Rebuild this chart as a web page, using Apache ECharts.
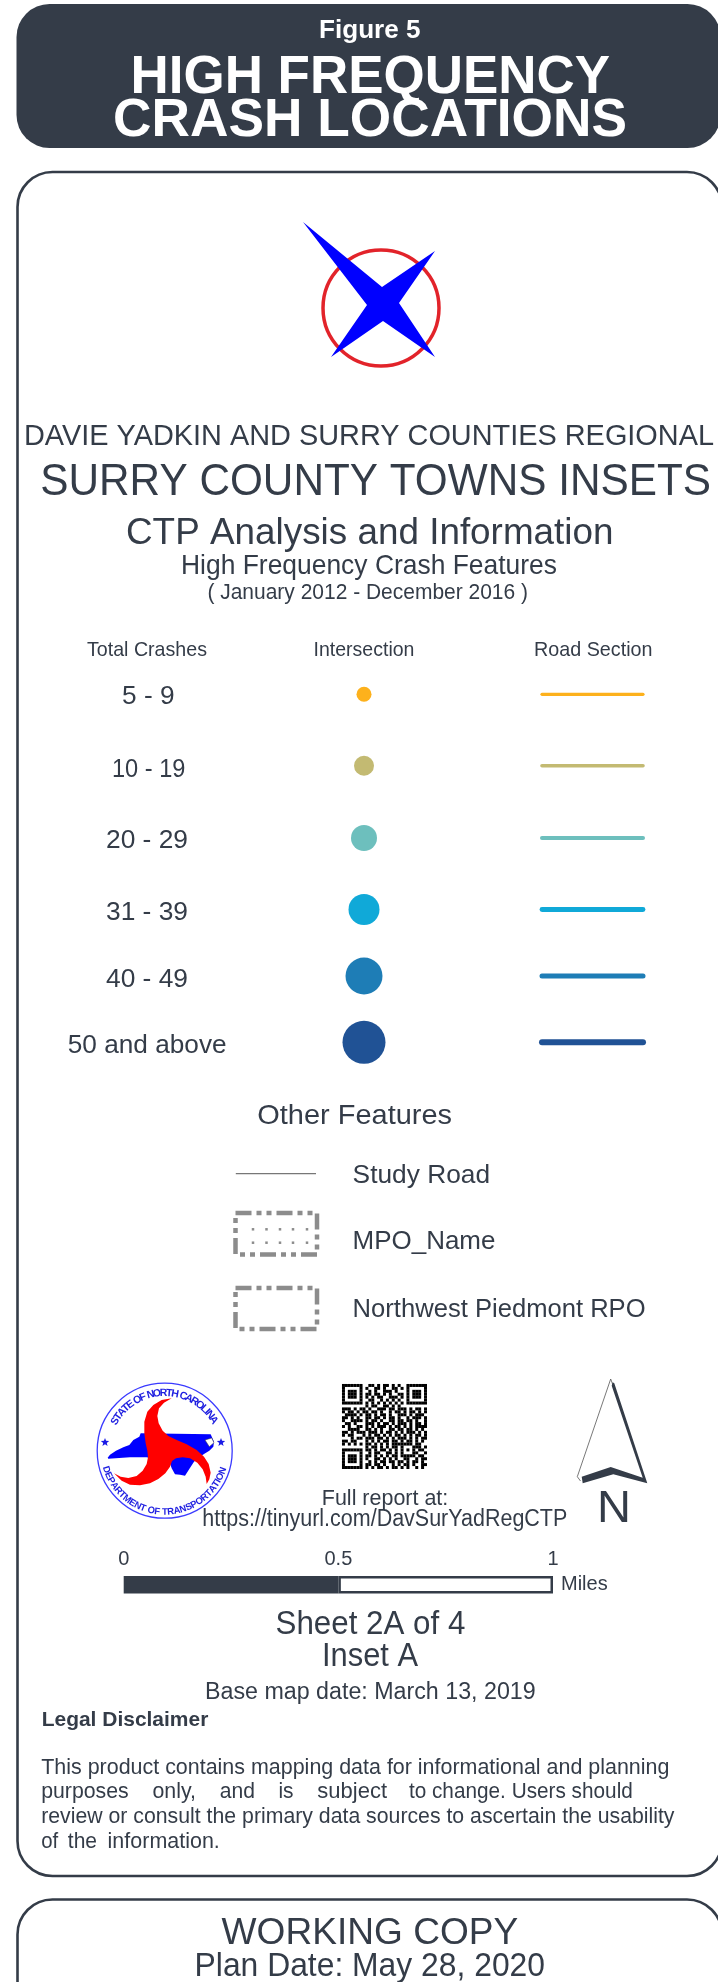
<!DOCTYPE html>
<html><head><meta charset="utf-8">
<style>html,body{margin:0;padding:0;background:#fff}#c{width:718px;height:1982px}</style>
<script src="https://cdn.jsdelivr.net/npm/echarts@6/dist/echarts.min.js"></script>
</head><body><div id="c"></div>
<script>
// ---------- content ----------
const titleLines = ['Figure 5', 'HIGH FREQUENCY', 'CRASH LOCATIONS'];
const headingLines = ['DAVIE YADKIN AND SURRY COUNTIES REGIONAL', 'SURRY COUNTY TOWNS INSETS', 'CTP Analysis and Information', 'High Frequency Crash Features', '( January 2012 - December 2016 )'];
const columnHeads = ['Total Crashes', 'Intersection', 'Road Section'];
const crashClasses = ['5 - 9', '10 - 19', '20 - 29', '31 - 39', '40 - 49', '50 and above'];
const classColors = ['#fdb11c', '#c3ba72', '#6dbfbd', '#10a9d8', '#1e7db6', '#205295'];
const otherHeading = 'Other Features';
const otherFeatures = ['Study Road', 'MPO_Name', 'Northwest Piedmont RPO'];
const reportLines = ['Full report at:', 'https://tinyurl.com/DavSurYadRegCTP'];
const scaleSegmentsMiles = [0.5, 0.5];
const scaleUnit = 'Miles';
const sheetLines = ['Sheet 2A of 4', 'Inset A', 'Base map date: March 13, 2019'];
const disclaimerHead = 'Legal Disclaimer';
const disclaimerLines = [
  ['This product contains mapping data for informational and planning'],
  ['purposes', 'only,', 'and', 'is', 'subject', 'to change. Users should'],
  ['review or consult the primary data sources to ascertain the usability'],
  ['of', 'the', 'information.']
];
const footerLines = ['WORKING COPY', 'Plan Date: May 28, 2020'];
const sealTop = 'STATE OF NORTH CAROLINA';
const sealBottom = 'DEPARTMENT OF TRANSPORTATION';
const qrRows = [
'#######..##.#.##.#.#..#######','#.....#.#..##.#..##.#.#.....#','#.###.#..#.#..###.#...#.###.#',
'#.###.#.##.##.#.#..##.#.###.#','#.###.#.#.#.##..###.#.#.###.#','#.....#..##..#.#.#.#..#.....#',
'#######.#.#.#.#.#.#.#.#######','........#.##..##.#.#.........',
'###.#.##.#..###.##.###.#.##.#','#.##.#.##.##.#..#.##.#.##.#.#','.####.#.##.#.##.#..###.#.###.',
'##.#.#..##.##.#.##.#..#.###.#','#..####.#.##.#..##.##.##.#..#','.##.#...###.#.##.#.###.#.##.#',
'#.#..##.#.#.###.#.##.#.#.####','..####..##.#.#..##.##.##.#.#.','##.#.###.###.#.##.#.#.###.#.#',
'#.##...#.#.##.#.#.##.#.#.##.#','...#.##.###.##.#.#.###.#.#.##','##.##...#.#.#.##.##.#.##.#.#.',
'#.#.#.#.##.#.#.#.#######.##.',
'........#.##.#.#.##.#...###.#','#######.##.#.##.#.#.#.#.#.##.','#.....#..#.##..##.#.#...##..#',
'#.###.#.##.#.#.#.##.#####.##.','#.###.#.#..##.#.#.#..##..#.##','#.###.#..#.#.##.##.##.#.##.#.',
'#.....#.##.##.#..#.#.##.#..##','#######.#.#.##.#.##.#.#..#.#.'
];

// ---------- layout tables (page pixels) ----------
const INK = '#343c48', FONT = '"Liberation Sans", Arial, sans-serif';
const titleBoxes = [[319,420.5,38.3,26],[130.5,610,94.3,53],[113,627,137,53]];
const headingBoxes = [[24,714,446.2,27.5],[40.3,711,496,42],[126,613.5,544.8,36],[181,557,574.6,26],[207.4,528,599.8,21.5]];
const headBoxes = [[87,207,657,20],[313.6,414.4,657,20],[534,652.5,657,20]];
const classBoxes = [[122,174.5,704.2,24],[112,185.4,777.2,24],[106,188,849,24],[106,188,920.5,24],[106,188,987.2,24],[67.8,226.6,1053.9,24]];
const rowY = [694.3,765.7,838,909.5,976,1042.3];
const dotSize = [15,20,26,31,37,43];
const lineWidth = [3.2,3.6,4,4.8,5,6];
const otherBoxes = [[352.6,490,1183.3,25],[352.6,495.4,1250,25],[352.6,645.6,1318,25]];
const sheetBoxes = [[275.5,465.3,1635,32],[322,418,1667,32],[205,535.7,1699.3,23]];
const reportBoxes = [[321.8,448.3,1505.7,21.5],[202.3,567.3,1526.7,22]];
const disclaimerBoxes = [
  [[41.2,669.4]],
  [[41.2,128.7],[152.5,196],[219.8,255],[278.4,293.5],[317.3,387],[408.9,632.8]],
  [[41.2,674.5]],
  [[41.2,58.2],[67.8,97],[107.6,219.8]]
];
const disclaimerBase = [1775,1799,1823.3,1848.3];
const footerBoxes = [[221.6,518.3,1945,35],[194.6,545,1976.7,32]];

// ---------- helpers ----------
const ctx = document.createElement('canvas').getContext('2d');
function fit(text, x0, x1, base, size0, bold, fill) {
  const size = size0 * (bold ? 1.02 : 1.05);
  const f = (bold ? 'bold ' : '') + size + 'px ' + FONT;
  ctx.font = f;
  const w = ctx.measureText(text).width;
  return { type: 'text', x: x0, y: base - size * 0.30, scaleX: (x1 - x0) / w, silent: true,
    style: { text, font: f, fill: fill || INK, align: 'left', verticalAlign: 'middle' } };
}
const boxes = (texts, table, bold, fill) => texts.map((t, i) => fit(t, table[i][0], table[i][1], table[i][2], table[i][3], bold, fill));
const sx = zx => 90 + zx / 3, sy = zy => 1380 + zy / 3;
const sealPts = a => a.map(p => [sx(p[0]), sy(p[1])]);
function star(cx, cy, r) {
  const pts = [];
  for (let i = 0; i < 10; i++) {
    const a = -Math.PI / 2 + i * Math.PI / 5, q = i % 2 ? r * 0.42 : r;
    pts.push([cx + q * Math.cos(a), cy + q * Math.sin(a)]);
  }
  return { type: 'polygon', silent: true, shape: { points: pts }, style: { fill: '#1a1ae6' } };
}
function arcText(text, size, radius, fromDeg, toDeg, bottom) {
  const cx = 164.7, cy = 1450.7, f = 'bold ' + size + 'px ' + FONT;
  ctx.font = f;
  const widths = [...text].map(c => ctx.measureText(c).width);
  const total = widths.reduce((a, b) => a + b, 0);
  let run = 0;
  return [...text].map((c, i) => {
    const t = (run + widths[i] / 2) / total; run += widths[i];
    const a = (fromDeg + (toDeg - fromDeg) * t) * Math.PI / 180;
    const x = cx + radius * Math.sin(a), y = bottom ? cy + radius * Math.cos(a) : cy - radius * Math.cos(a);
    return { type: 'text', x, y, rotation: bottom ? a : -a, silent: true,
      style: { text: c, font: f, fill: '#1f1fe0', align: 'center', verticalAlign: 'middle' } };
  });
}

// ---------- seal outlines (zoomed seal coordinates) ----------
const sealMap = [[53,233],[60,224],[78,212],[100,202],[118,195],[130,180],[148,170],[152,160],[362,163],[372,185],[370,200],[358,212],[342,222],[328,232],[312,245],[296,270],[285,287],[270,284],[255,283],[245,265],[240,250],[170,232],[120,232],[55,236]];
const sealWhirl = [[245,55],[222,68],[207,85],[202,108],[206,130],[218,152],[235,168],[260,180],[290,193],[320,210],[342,230],[356,252],[362,278],[358,298],[350,312],[347,290],[338,268],[322,248],[300,235],[278,232],[258,235],[246,243],[240,260],[226,280],[205,297],[180,310],[150,316],[120,314],[95,302],[72,280],[92,290],[115,294],[140,288],[158,272],[170,252],[174,232],[172,212],[167,190],[163,160],[163,125],[172,95],[190,75],[215,60]];
const sealCoast = [[345,180],[365,174],[372,188],[358,200]];

// ---------- graphics ----------
const graphics = [
  { type:'rect', silent:true, shape:{x:16.5,y:4,width:704,height:144,r:33}, style:{fill:INK} },
  { type:'rect', silent:true, shape:{x:17.5,y:172,width:704.5,height:1704,r:35}, style:{fill:'#fff',stroke:INK,lineWidth:2.6} },
  { type:'rect', silent:true, shape:{x:17.5,y:1899.5,width:704.5,height:140,r:35}, style:{fill:'#fff',stroke:INK,lineWidth:2.6} },
  ...boxes(titleLines, titleBoxes, true, '#ffffff'),
  { type:'circle', silent:true, shape:{cx:381,cy:308,r:58}, style:{fill:'#fff',stroke:'#e2232a',lineWidth:3.5} },
  { type:'polygon', silent:true, shape:{points:[[303,222],[382,287],[435,251],[399,303],[435,357],[383,321],[331,357],[367,305]]}, style:{fill:'#0000ff'} },
  ...boxes(headingLines, headingBoxes),
  ...boxes(columnHeads, headBoxes),
  ...boxes(crashClasses, classBoxes),
  fit(otherHeading, 257.3, 452, 1124.3, 27),
  ...boxes(otherFeatures, otherBoxes),
  // seal
  { type:'circle', silent:true, shape:{cx:164.7,cy:1450.7,r:67.5}, style:{fill:'#fff',stroke:'#3a3aff',lineWidth:1.3} },
  { type:'polygon', silent:true, shape:{points:sealPts(sealMap)}, style:{fill:'#0000ff'} },
  { type:'polygon', silent:true, shape:{points:sealPts(sealCoast)}, style:{fill:'#fff',stroke:'#333',lineWidth:0.5} },
  { type:'polygon', silent:true, shape:{points:sealPts(sealWhirl)}, style:{fill:'#ff0000'} },
  star(sx(45), sy(187), 4.4), star(sx(393), sy(187), 4.4),
  ...arcText(sealTop, 10.6, 57.6, -62, 61, false),
  ...arcText(sealBottom, 9.5, 61.4, -75, 74, true),
  // report link
  ...boxes(reportLines, reportBoxes),
  // north arrow
  { type:'polyline', silent:true, shape:{points:[[580.5,1481],[577.3,1476.7],[610.7,1379],[613.3,1386]]}, style:{fill:null,stroke:'#555',lineWidth:0.8} },
  { type:'polygon', silent:true, shape:{points:[[612.7,1382.3],[614.3,1383.3],[647.3,1483.3],[613.3,1474.3],[582.7,1483.3],[581.7,1476.7],[610.7,1467],[642.7,1477.7],[611.7,1385.7]]}, style:{fill:INK} },
  fit('N', 597, 631, 1522.7, 43),
  ...boxes(sheetLines, sheetBoxes),
  fit(disclaimerHead, 41.7, 208.3, 1726.7, 20, true),
  ...disclaimerLines.flatMap((segs, i) => segs.map((s, j) => fit(s, disclaimerBoxes[i][j][0], disclaimerBoxes[i][j][1], disclaimerBase[i], 21))),
  ...boxes(footerLines, footerBoxes)
];

// ---------- series on pixel-aligned axes ----------
const DOT_X = 364, ROAD_X = [542, 643];
const dots = crashClasses.map((c, i) => ({ name: c, value: [DOT_X, rowY[i]], symbolSize: dotSize[i], itemStyle: { color: classColors[i], opacity: 1 } }));
const series = [
  { type:'scatter', name:'Intersection', data:dots, symbol:'circle', silent:true, z:3 },
  ...crashClasses.map((c, i) => ({
    type:'line', name:c, data:[[ROAD_X[0],rowY[i]],[ROAD_X[1],rowY[i]]], showSymbol:false, silent:true, z:3,
    lineStyle:{ color:classColors[i], width:lineWidth[i], cap:'round' }
  })),
  { type:'line', name:otherFeatures[0], data:[[235.8,1173.7],[316,1173.7]], showSymbol:false, silent:true, z:3, lineStyle:{ color:'#777', width:1.3 } },
  ...[[1213,1254.5],[1288,1329]].map((yy, i) => ({
    type:'line', name:otherFeatures[i + 1],
    data:[[235.5,yy[0]],[317,yy[0]],[317,yy[1]],[235.5,yy[1]],[235.5,yy[0]]],
    showSymbol:false, silent:true, z:3,
    lineStyle:{ color:'#8c8c8c', width:4.5, type:[16,5,5,5,5,5] }
  })),
  { type:'scatter', name:'MPO fill', silent:true, z:3, symbol:'rect', symbolSize:2.5, itemStyle:{color:'#8c8c8c', opacity:1},
    data:[1229.3,1242.7].flatMap(y => [253,266.5,280,293,307].map(x => [x,y])) },
  { type:'scatter', name:'QR', silent:true, z:3, symbol:'rect', symbolSize:3, itemStyle:{color:'#000', opacity:1},
    data:qrRows.flatMap((row, r) => [...row].flatMap((ch, c) => ch === '#' ? [[342 + (c + 0.5) * 2.93, 1384 + (r + 0.5) * 2.93]] : [])) },
  { type:'bar', name:'scale dark', xAxisIndex:1, yAxisIndex:1, stack:'s', barWidth:'100%', silent:true,
    data:[scaleSegmentsMiles[0]], itemStyle:{ color:INK, borderColor:INK, borderWidth:2.5 } },
  { type:'bar', name:'scale light', xAxisIndex:1, yAxisIndex:1, stack:'s', barWidth:'100%', silent:true,
    data:[scaleSegmentsMiles[1]], itemStyle:{ color:'#fff', borderColor:INK, borderWidth:2.5 } }
];

const chart = echarts.init(document.getElementById('c'), null, { renderer:'canvas' });
chart.setOption({
  animation:false,
  backgroundColor:'#fff',
  grid:[
    { left:0, top:0, width:718, height:1982 },
    { left:123.7, top:1576, width:429.3, height:17.5 }
  ],
  xAxis:[
    { type:'value', gridIndex:0, min:0, max:718, show:false },
    { type:'value', gridIndex:1, min:0, max:1, interval:0.5, position:'top',
      axisLine:{show:false}, axisTick:{show:false}, splitLine:{show:false},
      axisLabel:{ show:true, fontSize:20, fontFamily:FONT, color:INK, margin:7 } }
  ],
  yAxis:[
    { type:'value', gridIndex:0, min:0, max:1982, inverse:true, show:false },
    { type:'category', gridIndex:1, position:'right', data:[scaleUnit],
      axisLine:{show:false}, axisTick:{show:false}, splitLine:{show:false},
      axisLabel:{ show:true, fontSize:20, fontFamily:FONT, color:INK, margin:8, padding:[3,0,0,0] } }
  ],
  graphic:{ elements:graphics },
  series
});
</script></body></html>
